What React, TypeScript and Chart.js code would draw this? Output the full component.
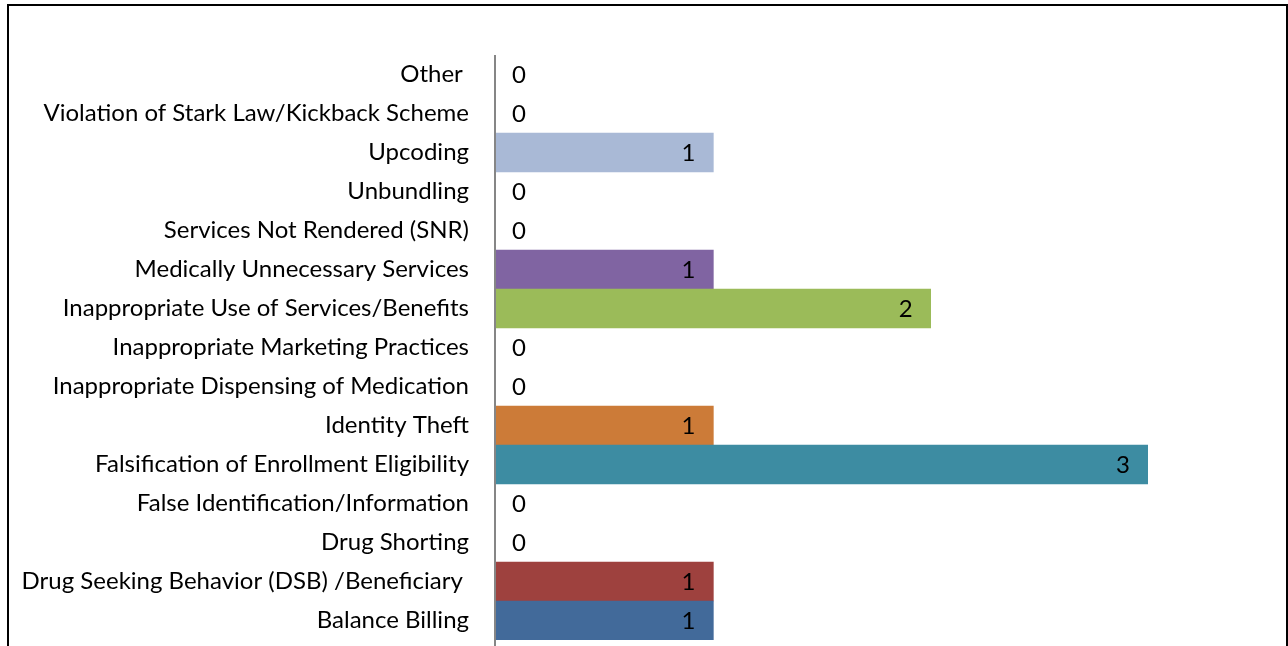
import React, { useEffect, useRef } from "react";
import { Chart, registerables } from "chart.js";

Chart.register(...registerables);

const categories: string[] = [
  "Other ",
  "Violation of Stark Law/Kickback Scheme",
  "Upcoding",
  "Unbundling",
  "Services Not Rendered (SNR)",
  "Medically Unnecessary Services",
  "Inappropriate Use of Services/Benefits",
  "Inappropriate Marketing Practices",
  "Inappropriate Dispensing of Medication",
  "Identity Theft",
  "Falsification of Enrollment Eligibility",
  "False Identification/Information",
  "Drug Shorting",
  "Drug Seeking Behavior (DSB) /Beneficiary ",
  "Balance Billing",
];

const values: number[] = [0, 0, 1, 0, 0, 1, 2, 0, 0, 1, 3, 0, 0, 1, 1];

const barColors: string[] = [
  "#4F81BD",
  "#C0504D",
  "#A9B9D6",
  "#9BBB59",
  "#8064A2",
  "#8064A2",
  "#9BBB59",
  "#4BACC6",
  "#F79646",
  "#CC7B38",
  "#3D8CA2",
  "#4F81BD",
  "#C0504D",
  "#9E413E",
  "#426A9A",
];

const xMin = 0;
const xMax = 3;

const FONT = "Lato, 'Open Sans', sans-serif";
const FONT_SIZE = 24;

const frameAndLabels = {
  id: "frameAndLabels",
  afterDatasetsDraw(chart: any) {
    const ctx = chart.ctx;
    const area = chart.chartArea;
    const xs = chart.scales.x;
    const meta = chart.getDatasetMeta(0);
    ctx.save();
    // value axis line
    ctx.strokeStyle = "#868686";
    ctx.lineWidth = 2;
    ctx.beginPath();
    ctx.moveTo(area.left - 1, area.top);
    ctx.lineTo(area.left - 1, chart.height);
    ctx.stroke();
    // data labels
    ctx.fillStyle = "#000";
    ctx.font = `${FONT_SIZE}px ${FONT}`;
    ctx.textBaseline = "middle";
    const ds = chart.data.datasets[0];
    meta.data.forEach((bar: any, i: number) => {
      const v = ds.data[i] as number;
      const y = bar.y + 1;
      if (v > 0) {
        ctx.textAlign = "right";
        ctx.fillText(String(v), xs.getPixelForValue(v) - 18, y);
      } else {
        ctx.textAlign = "left";
        ctx.fillText(String(v), xs.getPixelForValue(0) + 16, y);
      }
    });
    // outer frame (bottom edge is cut off)
    ctx.strokeStyle = "#000";
    ctx.lineWidth = 2;
    ctx.beginPath();
    ctx.moveTo(8, chart.height);
    ctx.lineTo(8, 5);
    ctx.lineTo(1287, 5);
    ctx.lineTo(1287, chart.height);
    ctx.stroke();
    ctx.restore();
  },
};

export default function App() {
  const ref = useRef<HTMLCanvasElement | null>(null);
  useEffect(() => {
    document.body.style.margin = "0";
    document.body.style.overflow = "hidden";
    const canvas = ref.current;
    if (!canvas) return;
    const chart = new Chart(canvas, {
      type: "bar",
      data: {
        labels: categories,
        datasets: [
          {
            data: values,
            backgroundColor: (c: any) =>
              values[c.dataIndex] === 0 ? "rgba(0,0,0,0)" : barColors[c.dataIndex],
            borderWidth: 0,
            barPercentage: 1,
            categoryPercentage: 1,
          },
        ],
      },
      options: {
        indexAxis: "y",
        animation: false,
        responsive: false,
        maintainAspectRatio: false,
        layout: { padding: { top: 55, right: 140, bottom: 6, left: 0 } },
        plugins: {
          legend: { display: false },
          tooltip: { enabled: false },
          title: { display: false },
        },
        scales: {
          x: {
            display: false,
            min: xMin,
            max: xMax,
          },
          y: {
            grid: { display: false, drawTicks: false },
            border: { display: false },
            ticks: {
              color: "#000",
              padding: 27,
              autoSkip: false,
              font: { family: FONT, size: FONT_SIZE },
            },
            afterFit: (scale: any) => {
              scale.width = 496;
              scale.paddingTop = 0;
              scale.paddingBottom = 0;
            },
          },
        },
      },
      plugins: [frameAndLabels],
    });
    return () => chart.destroy();
  }, []);
  return (
    <div style={{ width: 1288, height: 646, background: "#fff" }}>
      <canvas ref={ref} width={1288} height={646} style={{ display: "block" }} />
    </div>
  );
}
